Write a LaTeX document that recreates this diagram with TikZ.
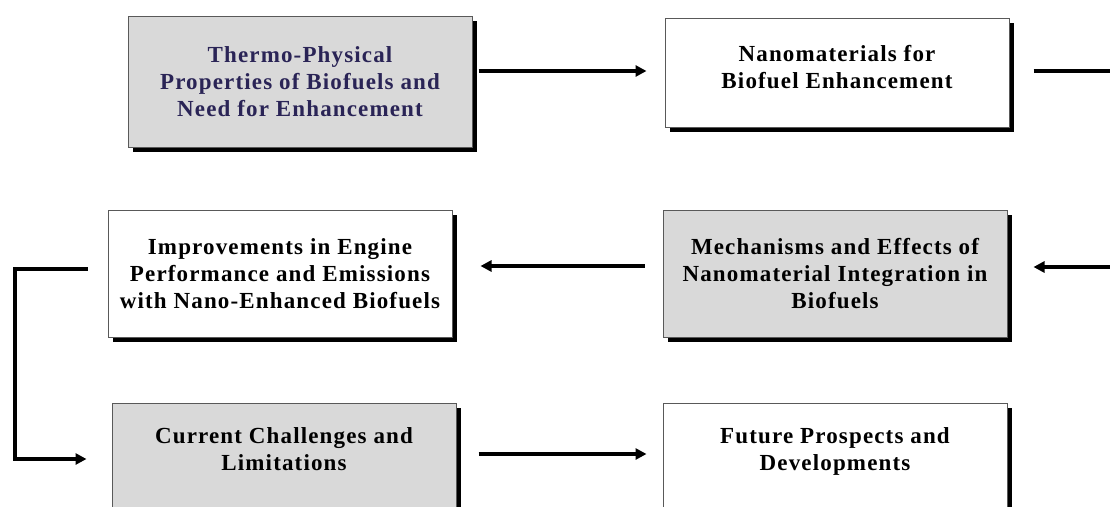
\documentclass[tikz,border=0pt]{standalone}
\usepackage{fontspec}
\setmainfont{Liberation Serif}
\usetikzlibrary{arrows.meta,shadows}
\definecolor{boxgray}{HTML}{D9D9D9}
\definecolor{navytext}{HTML}{2A2456}
\begin{document}
\begin{tikzpicture}[x=1pt,y=-1pt,
  box/.style={draw=black!65, line width=1pt, minimum width=344pt, align=center,
    inner sep=0pt,
    font=\bfseries\fontsize{23}{27}\selectfont\addfontfeature{LetterSpace=5},
    drop shadow={shadow xshift=4.5pt, shadow yshift=-4.5pt, fill=black, opacity=1}},
  graybox/.style={box, fill=boxgray},
  whitebox/.style={box, fill=white},
  arr/.style={line width=3.2pt, -{Triangle[length=11pt,width=11pt]}}]
\useasboundingbox (0,0) rectangle (1110,506);
\clip (0,0) rectangle (1110,506);
\fill[white] (0,0) rectangle (1110,506);

\node[graybox, minimum height=131pt, text=navytext] (b1) at (300,81.5)
  {Thermo-Physical\\Properties of Biofuels and\\Need for Enhancement};
\node[whitebox, minimum height=109pt] (b2) at (837,72.5)
  {Nanomaterials for\\Biofuel Enhancement\\[-15pt]\mbox{}};
\node[whitebox, minimum height=127pt] (b3) at (280,273.5)
  {Improvements in Engine\\Performance and Emissions\\with Nano-Enhanced Biofuels};
\node[graybox, minimum height=127pt] (b4) at (835,273.5)
  {Mechanisms and Effects of\\Nanomaterial Integration in\\Biofuels};
\node[graybox, minimum height=127pt, anchor=north] (b5) at (284,403)
  {Current Challenges and\\Limitations\\\strut};
\node[whitebox, minimum height=127pt, anchor=north] (b6) at (835,403)
  {Future Prospects and\\Developments\\\strut};

\coordinate (r1) at (1125,71);
\coordinate (r2) at (1125,267);
\coordinate (l1) at (15,269);
\coordinate (l2) at (15,459);

\draw[arr] ([xshift=6pt]b1.east |- 0,71) -- ([xshift=-18pt]b2.west |- 0,71);
\draw[arr] ([xshift=24pt]b2.east |- r1) -- (r1) -- (r2) -- ([xshift=26pt]b4.east |- r2);
\draw[arr] ([xshift=-18pt]b4.west |- 0,266) -- ([xshift=28pt]b3.east |- 0,266);
\draw[arr] ([xshift=-20pt]b3.west |- l1) -- (l1) -- (l2) -- ([xshift=-25pt]b5.west |- l2);
\draw[arr] ([xshift=22pt]b5.east |- 0,454) -- ([xshift=-16pt]b6.west |- 0,454);
\end{tikzpicture}
\end{document}
